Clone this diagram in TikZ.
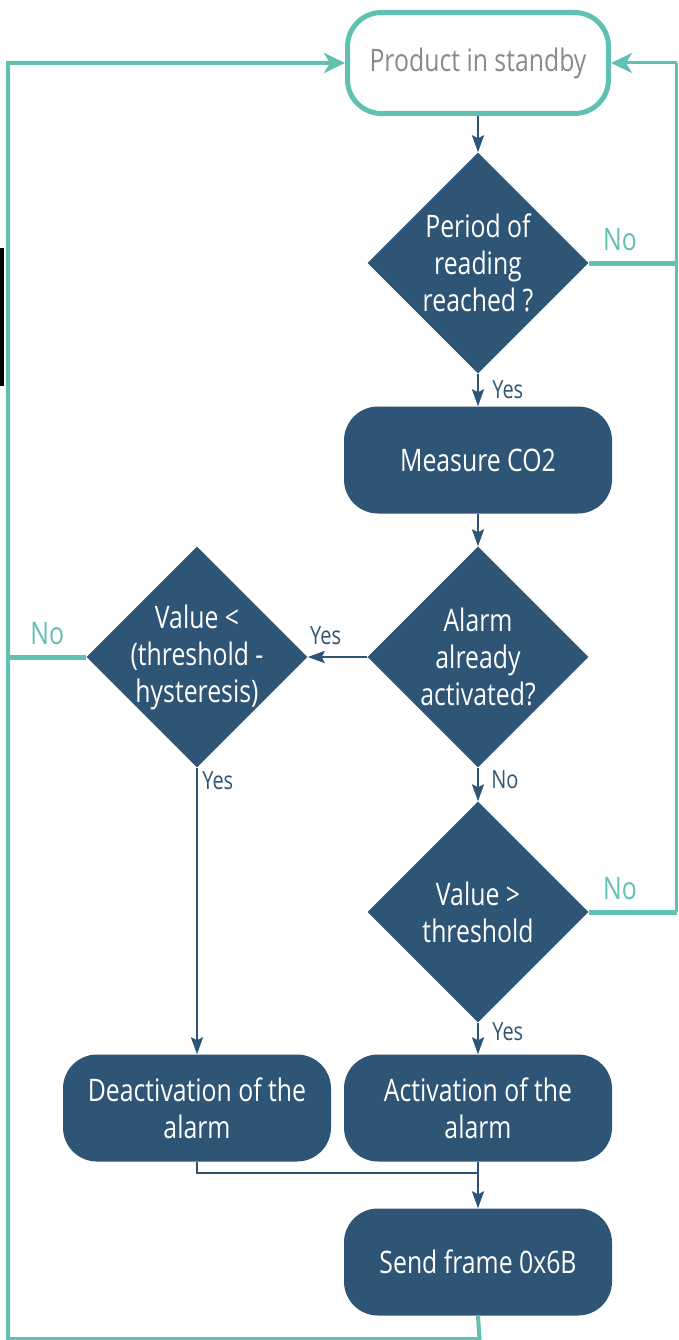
\documentclass[tikz,border=0pt]{standalone}
\usepackage{fontspec}
\setmainfont{Open Sans}[FakeStretch=0.8]
\usetikzlibrary{shapes.geometric,arrows.meta}
\definecolor{navy}{HTML}{2E5575}
\definecolor{tealc}{HTML}{60C0B2}
\definecolor{graytxt}{HTML}{8A8A8A}
\begin{document}
\begin{tikzpicture}[x=1pt,y=-1pt,
  bodyfont/.style={font=\fontsize{31}{37}\selectfont},
  procbox/.style={rectangle,rounded corners=34pt,fill=navy,text=white,minimum width=268pt,minimum height=107pt,align=center,inner sep=0pt,bodyfont},
  startbox/.style={rectangle,rounded corners=34pt,draw=tealc,line width=5pt,fill=white,text=graytxt,minimum width=261pt,minimum height=101pt,align=center,inner sep=0pt,bodyfont},
  decision/.style={diamond,fill=navy,minimum width=221pt,minimum height=221pt,inner sep=0pt,aspect=1},
  dtext/.style={text=white,align=center,bodyfont},
  navyarrow/.style={draw=navy,line width=2.6pt,-{Stealth[length=17pt,width=12pt,inset=3pt]}},
  navyline/.style={draw=navy,line width=2.4pt},
  tealline/.style={draw=tealc,line width=5pt,line join=miter},
  tealarrow/.style={draw=tealc,line width=5pt,line join=miter,-{Stealth[length=21pt,width=20pt,inset=6pt]}},
  ylab/.style={text=navy,font=\fontsize{25}{28}\selectfont,inner sep=2pt},
  nlab/.style={text=tealc,font=\fontsize{31}{34}\selectfont,inner sep=2pt}
]
\useasboundingbox (0,0) rectangle (678,1340);
\fill[black] (0,248) rectangle (4,386);

% nodes
\node[startbox] (standby) at (478,63) {Product in standby};
\node[decision,label={[dtext]center:{Period of\\reading\\reached ?}}] (d1) at (478,263) {};
\node[procbox] (measure) at (478,460) {Measure CO2};
\node[decision,label={[dtext]center:{Alarm\\already\\activated?}}] (d2) at (478,657) {};
\node[decision,label={[dtext]center:{Value <\\(threshold -\\hysteresis)}}] (d3) at (197,657) {};
\node[decision,label={[dtext]center:{Value >\\threshold}}] (d4) at (478,912) {};
\node[procbox] (act) at (478,1108) {Activation of the\\alarm};
\node[procbox] (deact) at (197,1108) {Deactivation of the\\alarm};
\node[procbox] (send) at (478,1262) {Send frame 0x6B};

% helper coordinates
\coordinate (tl) at (8,63);
\coordinate (bl) at (8,1339);
\coordinate (br) at (479.5,1339);
\coordinate (lm) at (8,657);
\coordinate (tr) at (676.5,63);
\coordinate (r1) at (676.5,263);
\coordinate (r4) at (676.5,912);
\coordinate (merge) at (478,1173);

% navy connectors
\draw[navyarrow] (standby.south) -- (d1.north);
\draw[navyarrow] (d1.south) -- node[ylab,right,xshift=11pt]{Yes} (measure.north);
\draw[navyarrow] (measure.south) -- (d2.north);
\draw[navyarrow] (d2.west) -- node[ylab,above,pos=0.7,yshift=9pt]{Yes} (d3.east);
\draw[navyarrow] (d2.south) -- node[ylab,right,pos=0.35,xshift=10pt]{No} (d4.north);
\draw[navyarrow] (d4.south) -- node[ylab,right,pos=0.3,xshift=11pt]{Yes} (act.north);
\draw[navyarrow] (d3.south) -- node[ylab,right,pos=0.045,xshift=2pt]{Yes} (deact.north);
\draw[navyline] (deact.south) |- (merge);
\draw[navyarrow] (act.south) -- (send.north);

% teal connectors
\draw[tealarrow,line width=4pt] (send.south) -- (br) -- (bl) -- (tl) -- (standby.west);
\draw[tealline] (d3.west) -- node[nlab,above,yshift=8pt]{No} (lm);
\draw[tealline] (d1.east) -- node[nlab,anchor=south west,pos=0,xshift=10pt,yshift=8pt]{No} (r1);
\draw[tealline,line width=3pt] (r4) -- (tr);
\draw[tealline] (d4.east) -- node[nlab,anchor=south west,pos=0,xshift=10pt,yshift=8pt]{No} (r4);
\draw[tealarrow,line width=3pt] (tr) -- (standby.east);
\end{tikzpicture}
\end{document}
